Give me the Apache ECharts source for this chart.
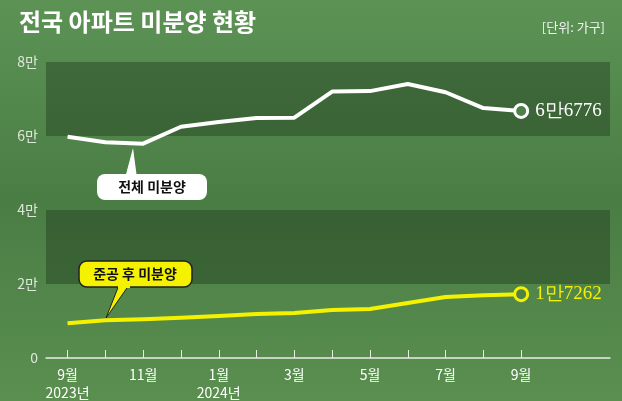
<!DOCTYPE html>
<html><head><meta charset="utf-8">
<script src="https://cdn.jsdelivr.net/npm/echarts@6/dist/echarts.min.js"></script>
<style>html,body{margin:0;padding:0;}#c{width:622px;height:401px;}</style>
</head><body><div id="c"></div>
<script>
const months = ['9월','10월','11월','12월','1월','2월','3월','4월','5월','6월','7월','8월','9월'];
const yearLabels = {0:'2023년', 4:'2024년'};
const totalUnsold = [59806,58299,57925,62489,63755,64874,64964,71997,72129,74037,71822,67550,66776];
const afterCompletion = [9392,10224,10465,10857,11363,11867,12194,12968,13230,14856,16461,16977,17262];
const yTicks = [0,20000,40000,60000,80000];
const endLabels = ['6만6776','1만7262'];

const chart = echarts.init(document.getElementById('c'));
const toPts = arr => arr.map((v,i)=>[i,v]);
const lastLabel = (txt,color) => ({
  show:true, position:'right', distance:6, formatter:()=>txt,
  fontFamily:'Liberation Serif', fontSize:19, color:color
});
function lineSeries(name, data, color, label){
  return {
    type:'line', name, data: toPts(data), symbol:'none', smooth:false,
    lineStyle:{color, width:4, join:'round'}, z:3,
    markPoint:{
      symbol:'circle', symbolSize:13,
      itemStyle:{color:'#4f8048', borderColor:color, borderWidth:3},
      label: lastLabel(label,color),
      data:[{coord:[data.length-1, data[data.length-1]]}]
    }
  };
}
chart.setOption({
  backgroundColor:{type:'linear',x:0,y:0,x2:0,y2:1,colorStops:[
    {offset:0,color:'#5c9355'},{offset:0.5,color:'#4a7d44'},{offset:1,color:'#5a8f50'}]},
  title:[
    {text:'전국 아파트 미분양 현황', left:14, top:5,
     textStyle:{color:'#fff',fontSize:24,fontWeight:'bold',fontFamily:'Noto Sans CJK KR'}},
    {text:'[단위: 가구]', right:12, top:16,
     textStyle:{color:'#f2f2f2',fontSize:13,fontWeight:'normal',fontFamily:'Noto Sans CJK KR'}}
  ],
  grid:{left:46,right:12,top:62,bottom:43,outerBoundsMode:'none'},
  xAxis:{type:'value', min:-0.57, max:14.35,
    axisLine:{show:true,lineStyle:{color:'#e8eee6',width:1.5}},
    axisTick:{show:true, inside:true, length:8, customValues:[0,1,2,3,4,5,6,7,8,9,10,11,12], lineStyle:{color:'#e8eee6'}},
    splitLine:{show:false},
    axisLabel:{customValues:[0,2,4,6,8,10,12], color:'#fff', fontSize:14, fontFamily:'Noto Sans CJK KR', margin:8, lineHeight:18,
      formatter:v=>{const i=Math.round(v); return months[i]+(yearLabels[i]?'\n'+yearLabels[i]:'');}}
  },
  yAxis:{type:'value', min:0, max:80000, interval:20000,
    axisLine:{show:false}, axisTick:{show:false}, splitLine:{show:false},
    splitArea:{show:true, areaStyle:{color:['rgba(0,0,0,0)','rgba(20,40,20,0.35)']}},
    axisLabel:{color:'#dfe6dc', fontSize:14, fontFamily:'Noto Sans CJK KR', margin:8,
      formatter:v=>v===0?'0':(v/10000)+'만'}
  },
  series:[
    lineSeries('전체 미분양', totalUnsold, '#ffffff', endLabels[0]),
    lineSeries('준공 후 미분양', afterCompletion, '#f5f200', endLabels[1])
  ],
  graphic:[
    {type:'group', x:97, y:174, z:100, children:[
      {type:'polygon', z:100, shape:{points:[[28,4],[36,-26],[40,4]]}, style:{fill:'#fff'}},
      {type:'rect', z:100, shape:{x:0,y:0,width:110,height:26,r:8}, style:{fill:'#fff'}},
      {type:'text', z:101, style:{x:55,y:13,text:'전체 미분양',align:'center',verticalAlign:'middle',fill:'#111',font:'bold 14px "Noto Sans CJK KR"'}}
    ]},
    {type:'group', x:79, y:261, z:100, children:[
      {type:'polygon', z:100, shape:{points:[[40,24],[50,24],[27,57]]}, style:{fill:'#f5f200',stroke:'#222',lineWidth:1}},
      {type:'rect', z:100, shape:{x:0,y:0,width:113,height:26,r:8}, style:{fill:'#f5f200',stroke:'#222',lineWidth:1.5}},
      {type:'rect', z:101, shape:{x:39,y:22,width:12,height:5}, style:{fill:'#f5f200'}},
      {type:'text', z:102, style:{x:56,y:13,text:'준공 후 미분양',align:'center',verticalAlign:'middle',fill:'#111',font:'bold 14px "Noto Sans CJK KR"'}}
    ]}
  ]
});
</script></body></html>
